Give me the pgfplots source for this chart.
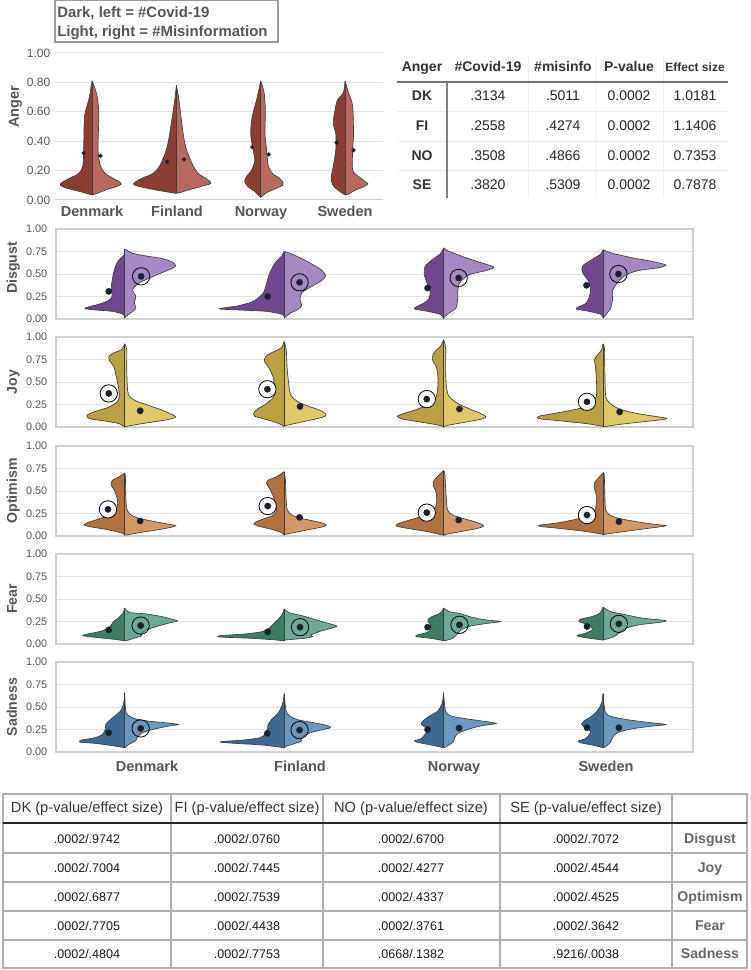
\documentclass[border=0pt]{standalone}
\usepackage{pgfplots}
\pgfplotsset{compat=1.18}
\usepackage{fontspec}
\setmainfont{Liberation Sans}

\definecolor{angD}{RGB}{140,62,50}
\definecolor{angL}{RGB}{184,106,94}
\definecolor{disD}{RGB}{112,72,142}
\definecolor{disL}{RGB}{166,136,196}
\definecolor{joyD}{RGB}{186,160,64}
\definecolor{joyL}{RGB}{222,200,104}
\definecolor{optD}{RGB}{178,114,62}
\definecolor{optL}{RGB}{212,152,102}
\definecolor{feaD}{RGB}{60,126,100}
\definecolor{feaL}{RGB}{106,170,150}
\definecolor{sadD}{RGB}{62,106,146}
\definecolor{sadL}{RGB}{106,152,192}
\definecolor{edgec}{RGB}{60,60,60}
\definecolor{dotc}{RGB}{26,32,48}
\definecolor{gridc}{RGB}{226,226,226}
\definecolor{framec}{RGB}{208,208,208}
\definecolor{tickc}{RGB}{85,85,85}
\definecolor{labc}{RGB}{85,85,85}
\definecolor{tabline}{RGB}{175,175,175}

\pgfplotsset{
  numfmt/.style={/pgf/number format/fixed, /pgf/number format/fixed zerofill,
    /pgf/number format/precision=2, /pgf/number format/assume math mode=true},
  panel/.style={scale only axis, width=477.75pt, height=67.5pt, anchor=north west,
    xmin=-0.431, xmax=3.565, ymin=0, ymax=1, xtick=\empty,
    ytick={0,0.25,0.5,0.75,1}, major tick length=0pt,
    ymajorgrids, grid style={color=gridc, line width=0.75pt},
    axis line style={color=framec, line width=0.8pt},
    yticklabel style={font=\fontsize{8.2}{9}\selectfont, text=tickc, xshift=-3pt},
    numfmt},
  half/.style={draw=edgec, line width=0.5pt, mark=none, smooth, tension=0.45},
  cline/.style={color=edgec, line width=0.6pt, mark=none},
  mean/.style={only marks, mark=*, mark size=2.3pt, color=dotc},
  ring/.style={only marks, mark=o, mark size=6.5pt, mark options={draw=black, line width=0.6pt}},
  wring/.style={only marks, mark=*, mark size=6.5pt, mark options={draw=black, fill=white, line width=0.6pt}},
}

\begin{document}
\begin{tikzpicture}
\path[use as bounding box] (0,0) rectangle (562.5pt,-727.5pt);

% ---------- Anger ----------
\begin{axis}[scale only axis, width=246pt, height=110.25pt, anchor=north west,
    at={(41.25pt,-39.75pt)}, xmin=-0.44, xmax=3.45, ymin=0, ymax=1, xtick=\empty,
    ytick={0,0.2,0.4,0.6,0.8,1}, major tick length=0pt,
    ymajorgrids, grid style={color=gridc, line width=0.75pt},
    axis line style={draw=none},
    yticklabel style={font=\fontsize{9}{10}\selectfont, text=tickc},
    numfmt]
\draw[color=framec, line width=0.9pt] (rel axis cs:0,0) -- (rel axis cs:1,0);
\addplot[half, fill=angD] coordinates {(0,0.81) (-0.04,0.68) (-0.09,0.57) (-0.10,0.34) (-0.11,0.23) (-0.16,0.18) (-0.26,0.15) (-0.36,0.118) (-0.375,0.10) (-0.30,0.08) (-0.14,0.057) (0,0.034)};
\addplot[half, fill=angL] coordinates {(0,0.81) (0.04,0.75) (0.067,0.68) (0.08,0.57) (0.07,0.34) (0.10,0.23) (0.16,0.18) (0.24,0.15) (0.32,0.125) (0.345,0.107) (0.28,0.09) (0.16,0.068) (0.06,0.045) (0,0.034)};
\addplot[half, fill=angD] coordinates {(1,0.78) (0.98,0.68) (0.92,0.45) (0.88,0.34) (0.80,0.23) (0.72,0.18) (0.60,0.15) (0.52,0.125) (0.49,0.107) (0.57,0.09) (0.76,0.068) (0.94,0.05) (1,0.045)};
\addplot[half, fill=angL] coordinates {(1,0.78) (1.03,0.68) (1.08,0.45) (1.12,0.34) (1.20,0.23) (1.26,0.18) (1.34,0.15) (1.40,0.125) (1.40,0.11) (1.28,0.09) (1.14,0.068) (1.04,0.05) (1,0.045)};
\addplot[half, fill=angD] coordinates {(2,0.81) (1.95,0.68) (1.90,0.57) (1.88,0.45) (1.91,0.34) (1.93,0.27) (1.89,0.20) (1.83,0.16) (1.81,0.125) (1.85,0.09) (1.93,0.057) (2,0.018)};
\addplot[half, fill=angL] coordinates {(2,0.81) (2.04,0.73) (2.055,0.61) (2.05,0.45) (2.07,0.34) (2.09,0.23) (2.14,0.18) (2.22,0.15) (2.265,0.118) (2.26,0.10) (2.19,0.08) (2.07,0.05) (2,0.018)};
\addplot[half, fill=angD] coordinates {(3,0.81) (2.98,0.73) (2.91,0.68) (2.88,0.61) (2.86,0.52) (2.89,0.45) (2.89,0.34) (2.86,0.23) (2.84,0.17) (2.84,0.125) (2.87,0.09) (2.94,0.057) (3,0.034)};
\addplot[half, fill=angL] coordinates {(3,0.81) (3.04,0.73) (3.09,0.64) (3.10,0.45) (3.09,0.34) (3.09,0.20) (3.16,0.16) (3.24,0.125) (3.27,0.11) (3.22,0.09) (3.11,0.064) (3.04,0.04) (3,0.034)};
\addplot[cline] coordinates {(0,0.81) (0,0.034)};
\addplot[cline] coordinates {(1,0.78) (1,0.045)};
\addplot[cline] coordinates {(2,0.81) (2,0.018)};
\addplot[cline] coordinates {(3,0.81) (3,0.034)};
\addplot[mean, mark size=1.4pt] coordinates {(-0.1,0.32) (0.89,0.26) (1.90,0.36) (2.90,0.39) (0.1,0.30) (1.09,0.277) (2.095,0.31) (3.1,0.34)};
\end{axis}

% ---------- Disgust ----------
\begin{axis}[panel, at={(42pt,-171.75pt)}]
\addplot[half, fill=disD] coordinates {(0,0.78) (0,0.72) (-0.023,0.68) (-0.05,0.62) (-0.07,0.51) (-0.084,0.36) (-0.08,0.25) (-0.107,0.20) (-0.17,0.16) (-0.23,0.133) (-0.25,0.115) (-0.18,0.10) (-0.076,0.085) (-0.008,0.05) (0,0.01)};
\addplot[half, fill=disL] coordinates {(0,0.78) (0.05,0.73) (0.134,0.70) (0.24,0.67) (0.30,0.63) (0.32,0.59) (0.29,0.556) (0.20,0.49) (0.09,0.40) (0.05,0.326) (0.07,0.25) (0.06,0.18) (0.07,0.12) (0.05,0.085) (0.008,0.03) (0,0.01)};
\addplot[half, fill=disD] coordinates {(1,0.75) (0.985,0.70) (0.943,0.62) (0.91,0.51) (0.89,0.40) (0.87,0.29) (0.81,0.20) (0.72,0.15) (0.61,0.12) (0.60,0.11) (0.72,0.10) (0.89,0.085) (0.99,0.05) (1,0.01)};
\addplot[half, fill=disL] coordinates {(1,0.75) (1.038,0.73) (1.10,0.68) (1.164,0.62) (1.23,0.55) (1.26,0.48) (1.23,0.42) (1.17,0.36) (1.11,0.29) (1.10,0.215) (1.11,0.15) (1.086,0.104) (1.04,0.067) (1.006,0.02) (1,0.01)};
\addplot[half, fill=disD] coordinates {(2,0.79) (1.983,0.73) (1.93,0.66) (1.885,0.585) (1.88,0.49) (1.90,0.38) (1.916,0.31) (1.91,0.23) (1.88,0.18) (1.826,0.133) (1.82,0.11) (1.90,0.085) (1.983,0.05) (2,0.0)};
\addplot[half, fill=disL] coordinates {(2,0.79) (2.025,0.76) (2.11,0.70) (2.21,0.64) (2.30,0.59) (2.315,0.57) (2.27,0.54) (2.16,0.49) (2.10,0.40) (2.09,0.31) (2.088,0.215) (2.078,0.12) (2.035,0.067) (2.004,0.02) (2,0.0)};
\addplot[half, fill=disD] coordinates {(3,0.77) (2.985,0.72) (2.912,0.64) (2.87,0.585) (2.874,0.51) (2.91,0.42) (2.922,0.326) (2.912,0.23) (2.89,0.17) (2.845,0.133) (2.834,0.11) (2.912,0.085) (2.99,0.05) (3,0.01)};
\addplot[half, fill=disL] coordinates {(3,0.77) (3.06,0.73) (3.185,0.68) (3.31,0.64) (3.395,0.60) (3.35,0.57) (3.227,0.54) (3.143,0.49) (3.09,0.40) (3.06,0.31) (3.06,0.215) (3.048,0.12) (3.027,0.067) (3.006,0.02) (3,0.01)};
\addplot[cline] coordinates {(0,0.78) (0,0.01)};
\addplot[cline] coordinates {(1,0.75) (1,0.01)};
\addplot[cline] coordinates {(2,0.79) (2,0.0)};
\addplot[cline] coordinates {(3,0.77) (3,0.01)};
\addplot[ring] coordinates {(0.103,0.474) (1.097,0.407) (2.095,0.456) (3.097,0.50)};
\addplot[mean] coordinates {(-0.1,0.307) (0.897,0.25) (1.90,0.344) (2.897,0.374) (0.103,0.474) (1.097,0.407) (2.095,0.456) (3.097,0.50)};
\end{axis}

% ---------- Joy ----------
\begin{axis}[panel, at={(42pt,-252.75pt)}]
\addplot[half, fill=joyD] coordinates {(0,0.925) (-0.02,0.86) (-0.074,0.82) (-0.10,0.78) (-0.092,0.73) (-0.068,0.67) (-0.053,0.56) (-0.04,0.45) (-0.034,0.34) (-0.047,0.28) (-0.10,0.22) (-0.19,0.17) (-0.237,0.13) (-0.22,0.093) (-0.126,0.067) (-0.034,0.037) (0,0)};
\addplot[half, fill=joyL] coordinates {(0,0.925) (0.013,0.86) (0.013,0.63) (0.018,0.41) (0.03,0.34) (0.07,0.29) (0.15,0.24) (0.23,0.19) (0.295,0.14) (0.32,0.11) (0.27,0.082) (0.137,0.045) (0.018,0.01) (0,0)};
\addplot[half, fill=joyD] coordinates {(1,0.95) (0.982,0.88) (0.916,0.82) (0.884,0.78) (0.876,0.73) (0.90,0.67) (0.93,0.56) (0.942,0.41) (0.937,0.34) (0.89,0.26) (0.837,0.205) (0.81,0.157) (0.816,0.12) (0.89,0.082) (0.97,0.037) (1,0.007)};
\addplot[half, fill=joyL] coordinates {(1,0.95) (1.013,0.86) (1.02,0.63) (1.034,0.41) (1.047,0.34) (1.087,0.28) (1.153,0.23) (1.22,0.19) (1.258,0.15) (1.258,0.12) (1.20,0.09) (1.10,0.052) (1.008,0.015) (1,0.007)};
\addplot[half, fill=joyD] coordinates {(2,0.97) (1.982,0.90) (1.947,0.84) (1.93,0.78) (1.934,0.73) (1.955,0.67) (1.966,0.52) (1.955,0.34) (1.908,0.254) (1.83,0.194) (1.75,0.15) (1.71,0.12) (1.74,0.09) (1.855,0.056) (1.974,0.019) (2,0)};
\addplot[half, fill=joyL] coordinates {(2,0.97) (2.013,0.88) (2.013,0.63) (2.018,0.45) (2.034,0.34) (2.092,0.26) (2.158,0.205) (2.224,0.157) (2.263,0.12) (2.25,0.093) (2.145,0.056) (2.026,0.019) (2,0)};
\addplot[half, fill=joyD] coordinates {(3,0.925) (2.992,0.86) (2.966,0.80) (2.947,0.746) (2.953,0.67) (2.96,0.485) (2.958,0.336) (2.926,0.26) (2.85,0.205) (2.716,0.157) (2.60,0.12) (2.60,0.093) (2.74,0.067) (2.90,0.037) (3,0.007)};
\addplot[half, fill=joyL] coordinates {(3,0.925) (3.01,0.86) (3.013,0.52) (3.018,0.336) (3.045,0.26) (3.11,0.194) (3.216,0.15) (3.32,0.12) (3.40,0.097) (3.37,0.082) (3.24,0.056) (3.11,0.03) (3.018,0.007) (3,0.007)};
\addplot[cline] coordinates {(0,0.925) (0,0)};
\addplot[cline] coordinates {(1,0.95) (1,0.007)};
\addplot[cline] coordinates {(2,0.97) (2,0)};
\addplot[cline] coordinates {(3,0.925) (3,0.007)};
\addplot[wring] coordinates {(-0.1,0.373) (0.895,0.42) (1.895,0.31) (2.90,0.28)};
\addplot[mean] coordinates {(-0.1,0.373) (0.895,0.42) (1.895,0.31) (2.90,0.28) (0.097,0.18) (1.10,0.228) (2.10,0.20) (3.105,0.168)};
\end{axis}

% ---------- Optimism ----------
\begin{axis}[panel, at={(42pt,-334.5pt)}]
\addplot[half, fill=optD] coordinates {(0,0.70) (-0.034,0.66) (-0.076,0.62) (-0.086,0.57) (-0.065,0.51) (-0.05,0.437) (-0.044,0.363) (-0.055,0.29) (-0.097,0.233) (-0.17,0.185) (-0.233,0.148) (-0.254,0.122) (-0.22,0.104) (-0.097,0.067) (-0.013,0.03) (0,0.011)};
\addplot[half, fill=optL] coordinates {(0,0.70) (0.004,0.66) (0.008,0.40) (0.015,0.29) (0.04,0.233) (0.092,0.196) (0.187,0.16) (0.27,0.133) (0.32,0.115) (0.29,0.096) (0.20,0.067) (0.092,0.037) (0.008,0.011) (0,0.011)};
\addplot[half, fill=optD] coordinates {(1,0.715) (0.954,0.66) (0.90,0.62) (0.89,0.585) (0.908,0.53) (0.929,0.455) (0.943,0.363) (0.954,0.29) (0.933,0.233) (0.88,0.196) (0.828,0.16) (0.81,0.133) (0.838,0.11) (0.922,0.074) (0.985,0.037) (1,0.01)};
\addplot[half, fill=optL] coordinates {(1,0.715) (1.008,0.62) (1.013,0.40) (1.02,0.29) (1.048,0.233) (1.11,0.196) (1.185,0.167) (1.248,0.14) (1.265,0.118) (1.227,0.096) (1.143,0.067) (1.06,0.037) (1.006,0.018) (1,0.01)};
\addplot[half, fill=optD] coordinates {(2,0.726) (1.962,0.66) (1.941,0.62) (1.935,0.567) (1.952,0.49) (1.958,0.40) (1.952,0.33) (1.924,0.27) (1.857,0.215) (1.773,0.17) (1.71,0.133) (1.706,0.11) (1.773,0.085) (1.90,0.048) (1.994,0.011) (2,0.011)};
\addplot[half, fill=optL] coordinates {(2,0.726) (2.008,0.70) (2.015,0.48) (2.025,0.29) (2.057,0.233) (2.12,0.196) (2.193,0.16) (2.235,0.133) (2.252,0.11) (2.214,0.085) (2.13,0.056) (2.025,0.022) (2,0.011)};
\addplot[half, fill=optD] coordinates {(3,0.70) (2.975,0.65) (2.95,0.60) (2.945,0.54) (2.958,0.455) (2.958,0.363) (2.95,0.29) (2.912,0.233) (2.828,0.185) (2.723,0.148) (2.607,0.122) (2.607,0.107) (2.723,0.085) (2.87,0.056) (2.992,0.022) (3,0.018)};
\addplot[half, fill=optL] coordinates {(3,0.70) (3.008,0.68) (3.013,0.40) (3.017,0.29) (3.042,0.233) (3.10,0.196) (3.206,0.16) (3.31,0.133) (3.395,0.115) (3.33,0.096) (3.206,0.067) (3.08,0.037) (3.006,0.018) (3,0.018)};
\addplot[cline] coordinates {(0,0.70) (0,0.011)};
\addplot[cline] coordinates {(1,0.715) (1,0.01)};
\addplot[cline] coordinates {(2,0.726) (2,0.011)};
\addplot[cline] coordinates {(3,0.70) (3,0.018)};
\addplot[wring] coordinates {(-0.105,0.296) (0.897,0.333) (1.895,0.26) (2.90,0.233)};
\addplot[mean] coordinates {(-0.105,0.296) (0.897,0.333) (1.895,0.26) (2.90,0.233) (0.097,0.167) (1.097,0.207) (2.095,0.178) (3.10,0.16)};
\end{axis}

% ---------- Fear ----------
\begin{axis}[panel, at={(42pt,-415.5pt)}]
\addplot[half, fill=feaD] coordinates {(0,0.40) (-0.01,0.343) (-0.042,0.287) (-0.07,0.25) (-0.084,0.213) (-0.105,0.175) (-0.158,0.138) (-0.23,0.112) (-0.263,0.093) (-0.19,0.075) (-0.084,0.056) (-0.004,0.037) (0,0.037)};
\addplot[half, fill=feaL] coordinates {(0,0.40) (0.03,0.35) (0.126,0.336) (0.23,0.306) (0.294,0.276) (0.332,0.257) (0.273,0.231) (0.20,0.194) (0.137,0.157) (0.105,0.112) (0.105,0.09) (0.063,0.067) (0.01,0.037) (0,0.037)};
\addplot[half, fill=feaD] coordinates {(1,0.39) (0.99,0.336) (0.97,0.287) (0.937,0.231) (0.905,0.175) (0.863,0.138) (0.758,0.112) (0.60,0.093) (0.60,0.078) (0.80,0.063) (0.947,0.045) (1,0.034)};
\addplot[half, fill=feaL] coordinates {(1,0.39) (1.03,0.35) (1.115,0.313) (1.20,0.269) (1.273,0.231) (1.33,0.20) (1.294,0.175) (1.22,0.138) (1.168,0.10) (1.18,0.082) (1.126,0.063) (1.01,0.045) (1,0.034)};
\addplot[half, fill=feaD] coordinates {(2,0.40) (1.98,0.343) (1.93,0.306) (1.903,0.276) (1.903,0.25) (1.916,0.224) (1.92,0.194) (1.92,0.157) (1.895,0.127) (1.836,0.10) (1.83,0.082) (1.92,0.063) (2,0.037)};
\addplot[half, fill=feaL] coordinates {(2,0.40) (2.035,0.36) (2.11,0.336) (2.172,0.30) (2.256,0.27) (2.357,0.25) (2.277,0.23) (2.172,0.20) (2.11,0.157) (2.088,0.112) (2.057,0.063) (2.008,0.037) (2,0.037)};
\addplot[half, fill=feaD] coordinates {(3,0.41) (2.98,0.343) (2.933,0.306) (2.86,0.276) (2.85,0.25) (2.89,0.224) (2.922,0.194) (2.933,0.157) (2.89,0.12) (2.838,0.093) (2.89,0.07) (2.996,0.045) (3,0.045)};
\addplot[half, fill=feaL] coordinates {(3,0.41) (3.048,0.36) (3.143,0.325) (3.248,0.287) (3.395,0.26) (3.353,0.24) (3.227,0.213) (3.143,0.175) (3.10,0.12) (3.07,0.082) (3.017,0.052) (3,0.045)};
\addplot[cline] coordinates {(0,0.40) (0,0.037)};
\addplot[cline] coordinates {(1,0.39) (1,0.034)};
\addplot[cline] coordinates {(2,0.40) (2,0.037)};
\addplot[cline] coordinates {(3,0.41) (3,0.045)};
\addplot[ring] coordinates {(0.10,0.205) (1.10,0.187) (2.10,0.213) (3.10,0.224)};
\addplot[mean] coordinates {(-0.1,0.157) (0.897,0.134) (1.90,0.187) (2.90,0.194) (0.10,0.205) (1.10,0.187) (2.10,0.213) (3.10,0.224)};
\end{axis}

% ---------- Sadness ----------
\begin{axis}[panel, at={(42pt,-496.5pt)}]
\addplot[half, fill=sadD] coordinates {(0,0.66) (-0.006,0.546) (-0.027,0.454) (-0.063,0.40) (-0.10,0.343) (-0.118,0.306) (-0.122,0.25) (-0.139,0.196) (-0.185,0.159) (-0.27,0.133) (-0.28,0.11) (-0.185,0.096) (-0.09,0.074) (0,0.048)};
\addplot[half, fill=sadL] coordinates {(0,0.66) (0.01,0.435) (0.067,0.369) (0.15,0.343) (0.256,0.325) (0.336,0.306) (0.277,0.288) (0.193,0.258) (0.11,0.214) (0.078,0.159) (0.067,0.122) (0.025,0.085) (0.004,0.048) (0,0.048)};
\addplot[half, fill=sadD] coordinates {(1,0.65) (0.992,0.546) (0.964,0.435) (0.922,0.362) (0.90,0.306) (0.895,0.25) (0.88,0.196) (0.849,0.159) (0.744,0.133) (0.60,0.114) (0.66,0.10) (0.87,0.077) (0.996,0.048) (1,0.048)};
\addplot[half, fill=sadL] coordinates {(1,0.65) (1.017,0.435) (1.08,0.362) (1.185,0.325) (1.27,0.295) (1.29,0.27) (1.227,0.243) (1.153,0.207) (1.11,0.159) (1.11,0.122) (1.07,0.096) (1.017,0.066) (1,0.048)};
\addplot[half, fill=sadD] coordinates {(2,0.66) (1.992,0.546) (1.964,0.454) (1.912,0.40) (1.87,0.343) (1.86,0.306) (1.89,0.27) (1.90,0.232) (1.88,0.188) (1.86,0.148) (1.817,0.122) (1.85,0.103) (1.933,0.074) (2,0.048)};
\addplot[half, fill=sadL] coordinates {(2,0.66) (2.013,0.454) (2.048,0.40) (2.143,0.369) (2.248,0.343) (2.33,0.317) (2.248,0.295) (2.164,0.258) (2.09,0.207) (2.07,0.159) (2.06,0.11) (2.03,0.074) (2.006,0.048) (2,0.048)};
\addplot[half, fill=sadD] coordinates {(3,0.65) (2.992,0.546) (2.964,0.454) (2.93,0.40) (2.88,0.343) (2.866,0.306) (2.89,0.27) (2.922,0.232) (2.912,0.188) (2.89,0.148) (2.845,0.122) (2.866,0.10) (2.943,0.074) (3,0.048)};
\addplot[half, fill=sadL] coordinates {(3,0.65) (3.013,0.454) (3.042,0.40) (3.143,0.362) (3.27,0.332) (3.395,0.306) (3.31,0.288) (3.185,0.258) (3.09,0.214) (3.06,0.159) (3.048,0.11) (3.027,0.074) (3.006,0.048) (3,0.048)};
\addplot[cline] coordinates {(0,0.66) (0,0.048)};
\addplot[cline] coordinates {(1,0.65) (1,0.048)};
\addplot[cline] coordinates {(2,0.66) (2,0.048)};
\addplot[cline] coordinates {(3,0.65) (3,0.048)};
\addplot[ring] coordinates {(0.10,0.262) (1.097,0.244)};
\addplot[mean] coordinates {(-0.1,0.214) (0.895,0.207) (1.90,0.25) (2.90,0.27) (0.10,0.262) (1.097,0.244) (2.097,0.266) (3.10,0.27)};
\end{axis}

% ---------- texts and tables (pixel grid) ----------
\begin{scope}[x=0.75pt,y=-0.75pt]
\tikzset{tx/.style={inner sep=0, text height=0.72em, text depth=0pt}}
% legend box
\draw[color=black!40, line width=0.8pt] (55,0.6) rectangle (278,42);
\node[tx, anchor=west, font=\bfseries\fontsize{11.2}{13}\selectfont, text=labc] at (57,13) {Dark, left = \#Covid-19};
\node[tx, anchor=west, font=\bfseries\fontsize{11.2}{13}\selectfont, text=labc] at (57,32) {Light, right = \#Misinformation};

% y labels
\tikzset{ylab/.style={tx, rotate=90, font=\bfseries\fontsize{10.6}{12}\selectfont, text=labc}}
\node[ylab, font=\bfseries\fontsize{10.9}{12}\selectfont] at (14,107) {Anger};
\node[ylab] at (12,268) {Disgust};
\node[ylab] at (12,382) {Joy};
\node[ylab] at (12,491) {Optimism};
\node[ylab] at (12,599) {Fear};
\node[ylab] at (12,707) {Sadness};

% x labels
\tikzset{xlab/.style={tx, font=\bfseries\fontsize{10.9}{12}\selectfont, text=labc}}
\node[xlab] at (92,212) {Denmark};
\node[xlab] at (177,212) {Finland};
\node[xlab] at (261,212) {Norway};
\node[xlab] at (345,212) {Sweden};
\node[xlab] at (147,767) {Denmark};
\node[xlab] at (300,767) {Finland};
\node[xlab] at (454,767) {Norway};
\node[xlab] at (606,767) {Sweden};

% Anger table
\foreach \yy in {111,141,170} \draw[color=black!7, line width=0.6pt] (397,\yy) -- (728,\yy);
\foreach \xx in {528,595,663} \draw[color=black!6, line width=0.6pt] (\xx,55) -- (\xx,198);
\draw[color=black!55, line width=0.8pt] (397,82) -- (728,82);
\draw[color=black!50, line width=0.8pt] (447,82) -- (447,198);
\tikzset{th/.style={tx, font=\bfseries\fontsize{10.5}{12}\selectfont, text=black!80},
         td/.style={tx, font=\fontsize{10.5}{12}\selectfont, text=black!85}}
\node[th] at (422,67) {Anger};
\node[th] at (488,67) {\#Covid-19};
\node[th] at (563,67) {\#misinfo};
\node[th] at (629,67) {P-value};
\node[th, font=\bfseries\fontsize{9}{10}\selectfont] at (695,67) {Effect size};
\node[th] at (422,96) {DK};  \node[td] at (488,96) {.3134}; \node[td] at (563,96) {.5011}; \node[td] at (629,96) {0.0002}; \node[td] at (695,96) {1.0181};
\node[th] at (422,126) {FI}; \node[td] at (488,126) {.2558}; \node[td] at (563,126) {.4274}; \node[td] at (629,126) {0.0002}; \node[td] at (695,126) {1.1406};
\node[th] at (422,156) {NO}; \node[td] at (488,156) {.3508}; \node[td] at (563,156) {.4866}; \node[td] at (629,156) {0.0002}; \node[td] at (695,156) {0.7353};
\node[th] at (422,185) {SE}; \node[td] at (488,185) {.3820}; \node[td] at (563,185) {.5309}; \node[td] at (629,185) {0.0002}; \node[td] at (695,185) {0.7878};

% bottom table
\draw[color=tabline, line width=0.8pt] (3,794) rectangle (747,968);
\foreach \yy in {853,882,911,940} \draw[color=tabline, line width=0.8pt] (3,\yy) -- (747,\yy);
\foreach \xx in {171,323,500,672} \draw[color=tabline, line width=0.8pt] (\xx,794) -- (\xx,968);
\draw[color=black!85, line width=1pt] (3,823) -- (747,823);
\tikzset{bh/.style={tx, font=\fontsize{11}{13}\selectfont, text=black!80},
         bd/.style={tx, font=\fontsize{9.4}{11}\selectfont, text=black!90},
         bn/.style={tx, font=\bfseries\fontsize{10.6}{12}\selectfont, text=black!60}}
\node[bh] at (87,808) {DK (p-value/effect size)};
\node[bh] at (247,808) {FI (p-value/effect size)};
\node[bh] at (411,808) {NO (p-value/effect size)};
\node[bh] at (586,808) {SE (p-value/effect size)};
\node[bd] at (87,839) {.0002/.9742}; \node[bd] at (247,839) {.0002/.0760}; \node[bd] at (411,839) {.0002/.6700}; \node[bd] at (586,839) {.0002/.7072}; \node[bn] at (710,839) {Disgust};
\node[bd] at (87,868) {.0002/.7004}; \node[bd] at (247,868) {.0002/.7445}; \node[bd] at (411,868) {.0002/.4277}; \node[bd] at (586,868) {.0002/.4544}; \node[bn] at (710,868) {Joy};
\node[bd] at (87,897) {.0002/.6877}; \node[bd] at (247,897) {.0002/.7539}; \node[bd] at (411,897) {.0002/.4337}; \node[bd] at (586,897) {.0002/.4525}; \node[bn] at (710,897) {Optimism};
\node[bd] at (87,926) {.0002/.7705}; \node[bd] at (247,926) {.0002/.4438}; \node[bd] at (411,926) {.0002/.3761}; \node[bd] at (586,926) {.0002/.3642}; \node[bn] at (710,926) {Fear};
\node[bd] at (87,954) {.0002/.4804}; \node[bd] at (247,954) {.0002/.7753}; \node[bd] at (411,954) {.0668/.1382}; \node[bd] at (586,954) {.9216/.0038}; \node[bn] at (710,954) {Sadness};
\end{scope}
\end{tikzpicture}
\end{document}
